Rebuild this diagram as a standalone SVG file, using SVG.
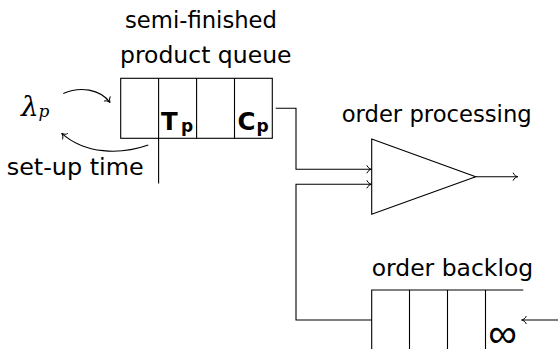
<svg xmlns="http://www.w3.org/2000/svg" width="558" height="349" viewBox="0 0 558 349">
  <defs>
    <marker id="to" viewBox="-6 -5 8 10" markerWidth="8" markerHeight="10" refX="0" refY="0" orient="auto" markerUnits="userSpaceOnUse">
      <path d="M -4.5 -3.6 C -3.6 -1.2 -1.2 -0.3 0 0 C -1.2 0.3 -3.6 1.2 -4.5 3.6" fill="none" stroke="#000" stroke-width="1" stroke-linecap="round"/>
    </marker>
  </defs>
  <style>
    .ln { fill: none; stroke: #000; stroke-width: 1.1; }
    .lbl { font-family: "DejaVu Sans", "Liberation Sans", sans-serif; font-size: 22.5px; fill: #000; }
    .sym { font-family: "DejaVu Sans", "Liberation Sans", sans-serif; font-weight: bold; fill: #000; }
    .math { font-family: "DejaVu Serif", "Liberation Serif", serif; font-style: italic; fill: #000; }
    .arr { marker-end: url(#to); }
  </style>

  <rect width="558" height="349" fill="#fff"/>

  <!-- semi-finished product queue -->
  <g id="product-queue">
    <text class="lbl" x="125" y="28.3" textLength="152" lengthAdjust="spacingAndGlyphs">semi-finished</text>
    <text class="lbl" x="120" y="62.5" textLength="171.5" lengthAdjust="spacingAndGlyphs">product queue</text>
    <rect class="ln" x="120.7" y="78.3" width="151.6" height="60"/>
    <line class="ln" x1="158.6" y1="78.3" x2="158.6" y2="183.5"/>
    <line class="ln" x1="196.6" y1="78.3" x2="196.6" y2="138.3"/>
    <line class="ln" x1="234.5" y1="78.3" x2="234.5" y2="138.3"/>
    <text class="sym" x="161" y="129.5" font-size="24.5">T</text>
    <text class="sym" x="181" y="132" font-size="17">p</text>
    <text class="sym" x="237.5" y="129.5" font-size="24.5">C</text>
    <text class="sym" x="256.5" y="132" font-size="17">p</text>
  </g>

  <!-- arrival rate and set-up time -->
  <g id="arrivals">
    <text class="math" x="21" y="116" font-size="28">λ</text>
    <text class="math" x="38.5" y="117" font-size="17">p</text>
  </g>
  <g id="setup">
    <text class="lbl" x="6.7" y="175" textLength="137" lengthAdjust="spacingAndGlyphs">set-up time</text>
  </g>

  <!-- order processing server -->
  <g id="order-processing">
    <text class="lbl" x="341.7" y="121.8" textLength="190" lengthAdjust="spacingAndGlyphs">order processing</text>
    <polygon class="ln" points="371.7,139 475.7,176.7 371.7,214.3"/>
  </g>

  <!-- order backlog queue -->
  <g id="order-backlog">
    <text class="lbl" x="371.7" y="276" textLength="161.5" lengthAdjust="spacingAndGlyphs">order backlog</text>
    <polyline class="ln" points="523.3,290 371.7,290 371.7,350"/>
    <line class="ln" x1="409.5" y1="290" x2="409.5" y2="350"/>
    <line class="ln" x1="447.5" y1="290" x2="447.5" y2="350"/>
    <line class="ln" x1="485.5" y1="290" x2="485.5" y2="350"/>
    <text x="502.5" y="347" text-anchor="middle" font-family="Liberation Sans, sans-serif" font-size="40">∞</text>
  </g>

  <!-- connectors -->
  <g id="connectors">
    <path class="ln arr" d="M 63.3 93.5 C 80 86 100 89 110 102.5"/>
    <path class="ln arr" d="M 148.3 145 C 120 155 85 154 61.7 133.3"/>
    <polyline class="ln arr" points="275.7,108.3 296,108.3 296,169.3 371.5,169.3"/>
    <polyline class="ln arr" points="371.7,320 296,320 296,184.3 371.5,184.3"/>
    <line class="ln arr" x1="475.7" y1="176.7" x2="517.7" y2="176.7"/>
    <line class="ln arr" x1="558" y1="320" x2="521.7" y2="320"/>
  </g>
</svg>
